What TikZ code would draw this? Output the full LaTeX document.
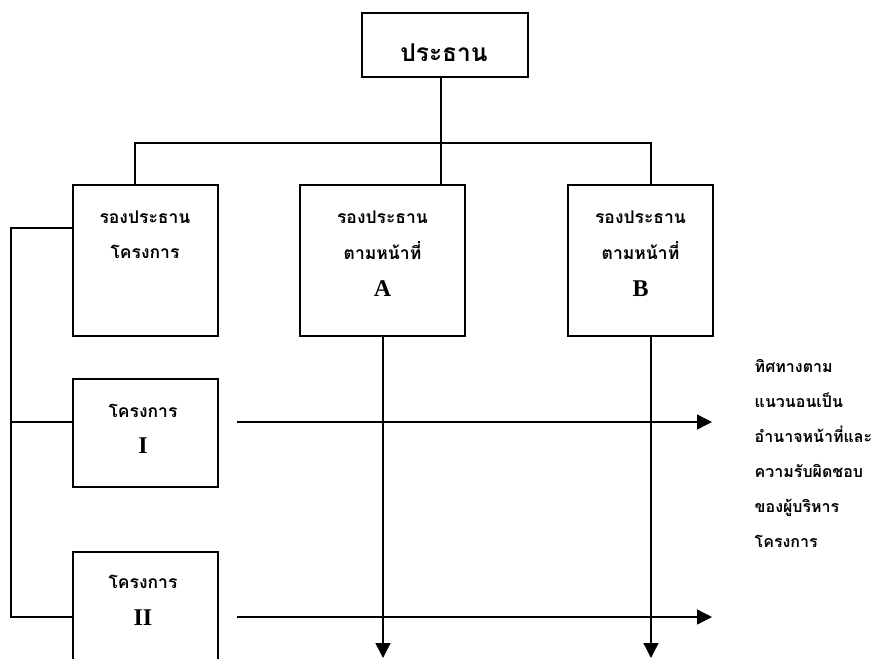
\documentclass[tikz,border=0pt]{standalone}
\usepackage{fontspec}
\newfontfamily\thaifont[Script=Thai]{Loma}
\newfontfamily\latinfont{Liberation Serif}
\usetikzlibrary{arrows.meta}
\begin{document}
\begin{tikzpicture}[x=1pt,y=-1pt,line width=1.4pt,
  box/.style={draw,rectangle,inner sep=0pt},
  th/.style={font=\thaifont\bfseries\fontsize{17.5}{20}\selectfont,inner sep=0pt,anchor=base},
  thr/.style={font=\thaifont\bfseries\fontsize{16}{20}\selectfont,inner sep=0pt,anchor=base west},
  thbig/.style={font=\thaifont\bfseries\fontsize{24.5}{28}\selectfont,inner sep=0pt,anchor=base},
  lat/.style={font=\latinfont\bfseries\fontsize{24}{28}\selectfont,inner sep=0pt,anchor=base},
  arr/.style={-{Triangle[length=15pt,width=15pt]}}]
\useasboundingbox (0,0) rectangle (876,659);
% boxes
\node[box,minimum width=166pt,minimum height=64pt] (top) at (445,45) {};
\node[box,minimum width=145pt,minimum height=151pt] (p1) at (145.5,260.5) {};
\node[box,minimum width=165pt,minimum height=151pt] (pA) at (382.5,260.5) {};
\node[box,minimum width=145pt,minimum height=151pt] (pB) at (640.5,260.5) {};
\node[box,minimum width=145pt,minimum height=108pt] (pI) at (145.5,433) {};
\node[box,minimum width=145pt,minimum height=138pt] (pII) at (145.5,621) {};
% texts
\node[thbig] (ttop) at (444,61) {ประธาน};
\node[th] (t1a) at (145,223) {รองประธาน};
\node[th] (t1b) at (145,258) {โครงการ};
\node[th] (tAa) at (382.5,223) {รองประธาน};
\node[th] (tAb) at (382.5,259) {ตามหน้าที่};
\node[lat] (tAc) at (382.5,296) {A};
\node[th] (tBa) at (640.5,223) {รองประธาน};
\node[th] (tBb) at (640.5,259) {ตามหน้าที่};
\node[lat] (tBc) at (640.5,296) {B};
\node[th] (tIa) at (143,417) {โครงการ};
\node[lat] (tIb) at (143,453) {I};
\node[th] (tIIa) at (143,588) {โครงการ};
\node[lat] (tIIb) at (143,625) {II};
\node[thr] (r1) at (754,372) {ทิศทางตาม};
\node[thr] (r2) at (754,407) {แนวนอนเป็น};
\node[thr] (r3) at (754,442) {อำนาจหน้าที่และ};
\node[thr] (r4) at (754,477) {ความรับผิดชอบ};
\node[thr] (r5) at (754,512) {ของผู้บริหาร};
\node[thr] (r6) at (754,547) {โครงการ};
% connectors
\coordinate (bl) at (135,143);
\coordinate (bm) at (441,143);
\coordinate (br) at (651,143);
\draw (top.south -| bm) -- (bm |- pA.north);
\draw (bl |- p1.north) -- (bl) -- (br) -- (br |- pB.north);
\coordinate (s1) at (11,228);
\coordinate (s2) at (11,422);
\coordinate (s3) at (11,617);
\draw (s1 -| p1.west) -- (s1) -- (s3) -- (s3 -| pII.west);
\draw (s2) -- (s2 -| pI.west);
\coordinate (h1s) at (237,422);
\coordinate (h1e) at (712,422);
\coordinate (h2s) at (237,617);
\coordinate (h2e) at (712,617);
\draw[arr] (h1s) -- (h1e);
\draw[arr] (h2s) -- (h2e);
\coordinate (vA) at (383,658);
\coordinate (vB) at (651,658);
\draw[arr] (vA |- pA.south) -- (vA);
\draw[arr] (vB |- pB.south) -- (vB);
\end{tikzpicture}
\end{document}
